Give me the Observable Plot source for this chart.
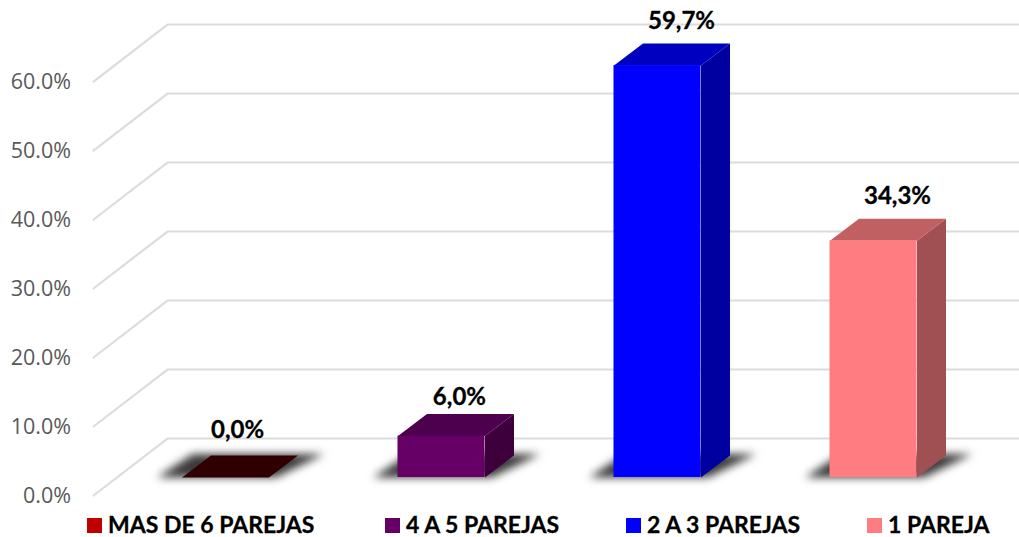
<!DOCTYPE html>
<html>
<head>
<meta charset="utf-8">
<script src="https://cdn.jsdelivr.net/npm/d3@7"></script>
<script src="https://cdn.jsdelivr.net/npm/@observablehq/plot@0.6"></script>
<style>
  html, body { margin: 0; padding: 0; background: #fff; }
  #chart { position: relative; width: 1019px; height: 537px; overflow: hidden; }
  #chart svg { display: block; background: #fff; }
  .legend { position: absolute; left: 0; top: 510px; width: 1019px; height: 27px; font: bold 23px Lato, sans-serif; color: #000; -webkit-text-stroke: 0.3px #000; }
  .legend span { position: absolute; white-space: nowrap; line-height: 26px; top: 1px; }
  .legend i { position: absolute; width: 15px; height: 15px; top: 8px; }
</style>
</head>
<body>
<div id="chart"></div>
<script>
// Data
const categories = ["MAS DE 6 PAREJAS", "4 A 5 PAREJAS", "2 A 3 PAREJAS", "1 PAREJA"];
const values = [0.0, 6.0, 59.7, 34.3];
const valueLabels = ["0,0%", "6,0%", "59,7%", "34,3%"];
const yTicks = [0, 10, 20, 30, 40, 50, 60];

// Colours
const legendColors = ["#c00000", "#660066", "#0000ff", "#ff7c80"];
const frontColors = ["#300000", "#660066", "#0000ff", "#ff7c80"];
const topColors = ["#300000", "#4d004d", "#0000c0", "#c06062"];
const sideColors = ["#300000", "#3d003d", "#0000a0", "#a05053"];

// Layout in scale units (x: 1 = one category step, y: 1 = one percentage point)
const barHalf = 0.2014, depthX = 0.1343, depthY = 3.19, barLift = 2.61;
const floorFront = -0.611, floorBack = -0.2685, floorRise = 8.26, plotRight = 3.6759;
const labelDx = [0.056, 0.083, 0.111, 0.111];
const labelDy = [-25, -17, -22, -23];
const legendX = [87, 385, 626, 867];

const idx = categories.map((_, i) => i);

const gridRows = yTicks.flatMap(t => [
  {t, x: floorFront, y: t},
  {t, x: floorBack, y: t + floorRise},
  {t, x: plotRight, y: t + floorRise}
]);

const poly = (id, fill, pts) => pts.map(([x, y]) => ({id, fill, x, y}));

const shadows = idx.flatMap(i => {
  const L = i - barHalf, R = i + barHalf, b = barLift;
  return poly("s" + i, "#3a3a3a", [
    [L - 0.115, b], [R + 0.032, b], [R + 0.255, b + 3.4], [L + 0.05, b + 3.4]
  ]);
});
const tops = idx.flatMap(i => {
  const L = i - barHalf, R = i + barHalf, v = values[i] + barLift;
  return poly("t" + i, topColors[i], [
    [L, v], [R, v], [R + depthX, v + depthY], [L + depthX, v + depthY]
  ]);
});
const sides = idx.flatMap(i => {
  const R = i + barHalf, v = values[i] + barLift, b = barLift;
  return poly("d" + i, sideColors[i], [
    [R, b], [R + depthX, b + depthY], [R + depthX, v + depthY], [R, v]
  ]);
});

const soft = "blur(0.5px)";

const plot = Plot.plot({
  width: 1019,
  height: 510,
  marginLeft: 72,
  marginRight: 0,
  marginTop: 0,
  marginBottom: 15,
  style: {background: "#fff", overflow: "visible"},
  x: {domain: [-0.7083, plotRight], axis: null},
  y: {domain: [0, 71.74], axis: null},
  color: {type: "identity"},
  marks: [
    Plot.axisY({
      anchor: "left", ticks: yTicks, tickSize: 0, tickPadding: 0, label: null,
      tickFormat: d => d.toFixed(1) + "%", fontSize: 21.5, fontFamily: "Open Sans",
      fill: "#595959", dx: -1.5, dy: 1
    }),
    Plot.line(gridRows, {x: "x", y: "y", z: "t", stroke: "#dcdcdc", strokeWidth: 2.2, imageFilter: soft}),
    Plot.line(shadows, {x: "x", y: "y", z: "id", fill: "fill", stroke: null, imageFilter: "blur(4px)"}),
    Plot.line(sides, {x: "x", y: "y", z: "id", fill: "fill", stroke: null, imageFilter: soft}),
    Plot.line(tops, {x: "x", y: "y", z: "id", fill: "fill", stroke: null, imageFilter: soft}),
    Plot.rect(idx, {
      x1: i => i - barHalf, x2: i => i + barHalf,
      y1: () => barLift, y2: i => values[i] + barLift,
      fill: i => frontColors[i], imageFilter: soft
    }),
    ...idx.map(i => Plot.text([i], {
      x: d => d + labelDx[d],
      y: d => values[d] + barLift + depthY,
      dy: labelDy[i],
      text: d => valueLabels[d],
      fontSize: 24, fontWeight: "bold", fontFamily: "Lato", fill: "#000",
      stroke: "#000", strokeWidth: 0.3
    }))
  ]
});

const chart = document.getElementById("chart");
chart.appendChild(plot);

const legend = d3.select(chart).append("div").attr("class", "legend");
categories.forEach((c, i) => {
  legend.append("i").style("left", legendX[i] + "px").style("background", legendColors[i]);
  legend.append("span").style("left", (legendX[i] + 21) + "px").text(c);
});
</script>
</body>
</html>
